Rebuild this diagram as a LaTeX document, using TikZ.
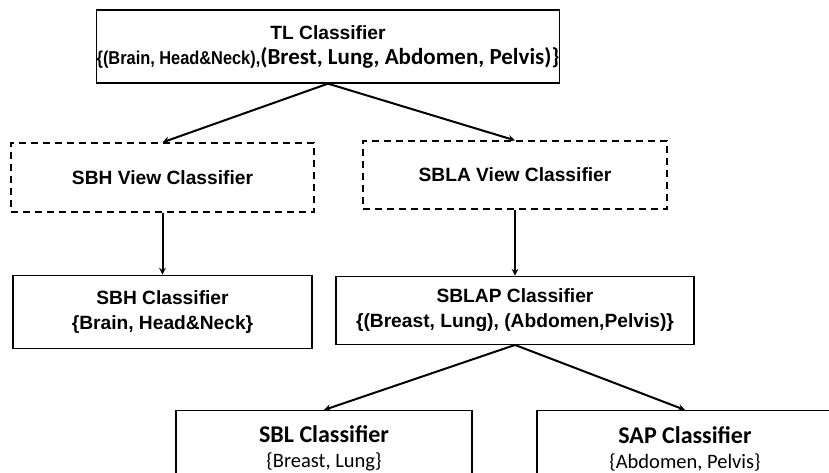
\documentclass[tikz,border=0pt]{standalone}
\usepackage{fontspec}
\setmainfont{Liberation Sans}
\newfontfamily\calibri{Carlito}
\newfontfamily\narrowarial[FakeStretch=0.88]{Liberation Sans}
\usetikzlibrary{arrows,positioning}
\tikzstyle{classifier} = [rectangle, draw=black, line width=1.3pt, text centered, align=center, inner sep=0pt, font=\bfseries\fontsize{19.2}{25}\selectfont]
\tikzstyle{viewbox} = [classifier, dash pattern=on 7pt off 5pt]
\tikzstyle{lowbox} = [classifier, font=\calibri\fontsize{20.5}{25}\selectfont]
\tikzstyle{arrow} = [line width=2pt,->,>=stealth]

\begin{document}
\begin{tikzpicture}[x=1pt,y=-1pt]
\clip (0,0) rectangle (829,473);
% Classifier nodes
\node (tl) [classifier, minimum width=458pt, minimum height=73pt] at (328,46.5) {TL Classifier\\{\narrowarial\fontsize{18.6}{25}\selectfont\{(Brain, Head\&Neck),}{\calibri\fontsize{23}{25}\selectfont(Brest, Lung, Abdomen, Pelvis)\}}};
\node (sbhview) [viewbox, minimum width=303pt, minimum height=69pt] at (162.5,177.5) {SBH View Classifier};
\node (sblaview) [viewbox, minimum width=304pt, minimum height=68pt] at (515,175) {SBLA View Classifier};
\node (sbh) [classifier, minimum width=299pt, minimum height=73pt, below=62pt of sbhview] {SBH Classifier\\\{Brain, Head\&Neck\}};
\node (sblap) [classifier, minimum width=358pt, minimum height=68pt, below=66pt of sblaview] {SBLAP Classifier\\\{(Breast, Lung), (Abdomen,Pelvis)\}};
\node (sbl) [lowbox, minimum width=296pt, minimum height=76pt, below=65pt of sblap, xshift=-191pt] {{\bfseries\fontsize{24}{25}\selectfont SBL Classifier}\\\{Breast, Lung\}};
\node (sap) [lowbox, minimum width=296pt, minimum height=76pt, below=65pt of sblap, xshift=170pt] {{\bfseries\fontsize{24}{25}\selectfont SAP Classifier}\\\{Abdomen, Pelvis\}};

% Arrows
\draw[arrow] (tl.south) -- (sbhview.north);
\draw[arrow] (tl.south) -- (sblaview.north);
\draw[arrow] (sbhview) -- (sbh);
\draw[arrow] (sblaview) -- (sblap);
\draw[arrow] (sblap.south) -- (sbl.north);
\draw[arrow] (sblap.south) -- (sap.north);
\end{tikzpicture}
\end{document}
